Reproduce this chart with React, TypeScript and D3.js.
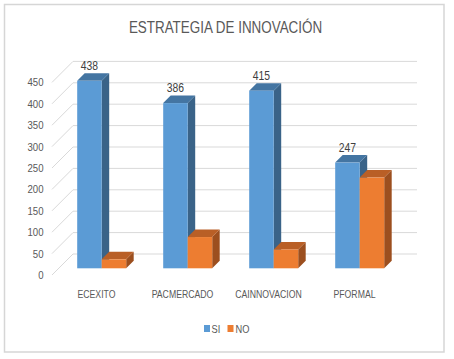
import React from "react";
import * as d3 from "d3";

const categories = ["ECEXITO", "PACMERCADO", "CAINNOVACION", "PFORMAL"];
const seriesNames = ["SI", "NO"];
const siValues = [438, 386, 415, 247];
const noValues = [21, 73, 44, 212];
const yTicks = [0, 50, 100, 150, 200, 250, 300, 350, 400, 450];
const title = "ESTRATEGIA DE INNOVACIÓN";

const W = 454;
const H = 359;
const FONT = "'Liberation Sans', Arial, sans-serif";

const colors: Record<string, { front: string; top: string; side: string }> = {
  SI: { front: "#5B9BD5", top: "#4475A2", side: "#3A6388" },
  NO: { front: "#ED7D31", top: "#B95F26", side: "#9C4F1F" },
};

function NText(props: {
  x: number;
  y: number;
  sx: number;
  size: number;
  anchor?: "start" | "middle" | "end";
  fill?: string;
  children: React.ReactNode;
}) {
  const { x, y, sx, size, anchor = "start", fill = "#595959", children } = props;
  return (
    <g transform={`translate(${x},${y}) scale(${sx},1)`}>
      <text
        x={0}
        y={0}
        dy="0.35em"
        textAnchor={anchor}
        fontSize={size}
        fill={fill}
        fontFamily={FONT}
      >
        {children}
      </text>
    </g>
  );
}

export default function App() {
  const depth = 21;
  const barD0 = 6.7;
  const barD1 = 14.2;
  const x = d3.scaleBand<string>().domain(categories).range([52, 396]);
  const bw = x.bandwidth();
  const groupW = 49;
  const xs = d3
    .scaleBand<string>()
    .domain(seriesNames)
    .range([(bw - groupW) / 2, (bw + groupW) / 2]);
  const y = d3.scaleLinear().domain([0, 450]).range([275, 82.4]);

  const data = categories.map((c, i) => ({
    cat: c,
    vals: [
      { s: "SI", v: siValues[i] },
      { s: "NO", v: noValues[i] },
    ],
  }));

  const bars: React.ReactNode[] = [];
  data.forEach((d) => {
    d.vals.forEach((b) => {
      const xl = (x(d.cat) as number) + (xs(b.s) as number);
      const w = xs.bandwidth();
      const fx = xl + barD0;
      const fyTop = y(b.v) - barD0;
      const fyBot = y(0) - barD0;
      const off = barD1 - barD0;
      const c = colors[b.s];
      const side = `M${fx + w},${fyTop} L${fx + w + off},${fyTop - off} L${fx + w + off},${fyBot - off} L${fx + w},${fyBot} Z`;
      const top = `M${fx},${fyTop} L${fx + off},${fyTop - off} L${fx + w + off},${fyTop - off} L${fx + w},${fyTop} Z`;
      bars.push(
        <g key={d.cat + b.s}>
          <path d={side} fill={c.side} />
          <path d={top} fill={c.top} />
          <rect x={fx} y={fyTop} width={w} height={fyBot - fyTop} fill={c.front} />
          {b.s === "SI" && (
            <NText x={fx + w / 2} y={fyTop - 15} sx={0.83} size={12.5} anchor="middle" fill="#404040">
              {b.v}
            </NText>
          )}
        </g>
      );
    });
  });

  return (
    <svg
      width={W}
      height={H}
      style={{ position: "absolute", left: 0, top: 0, background: "#fff" }}
    >
      <rect x={0} y={0} width={W} height={H} fill="#fff" />
      <rect x={4.5} y={4.5} width={439.5} height={347.5} fill="#fff" stroke="#d6d6d6" strokeWidth={1.5} />
      <NText x={225.5} y={27} sx={0.79} size={17} anchor="middle">
        {title}
      </NText>
      {yTicks.map((t) => (
        <line
          key={"b" + t}
          x1={52 + depth}
          x2={396 + depth}
          y1={y(t) - depth}
          y2={y(t) - depth}
          stroke="#d9d9d9"
          strokeWidth={1}
        />
      ))}
      {yTicks.map((t) => (
        <line
          key={"s" + t}
          x1={52}
          x2={52 + depth}
          y1={y(t)}
          y2={y(t) - depth}
          stroke="#d9d9d9"
          strokeWidth={1}
        />
      ))}
      {yTicks.map((t) => (
        <NText key={"t" + t} x={43.5} y={y(t)} sx={0.83} size={11.6} anchor="end">
          {t}
        </NText>
      ))}
      {bars}
      {categories.map((c) => (
        <NText key={"c" + c} x={(x(c) as number) + bw / 2 + 1.5} y={294} sx={0.75} size={11.6} anchor="middle">
          {c}
        </NText>
      ))}
      <rect x={204} y={325} width={6} height={7} fill={colors.SI.front} />
      <NText x={211.5} y={328.7} sx={0.8} size={11.6}>
        {seriesNames[0]}
      </NText>
      <rect x={227.5} y={325} width={6} height={7} fill={colors.NO.front} />
      <NText x={235.5} y={328.7} sx={0.8} size={11.6}>
        {seriesNames[1]}
      </NText>
    </svg>
  );
}
